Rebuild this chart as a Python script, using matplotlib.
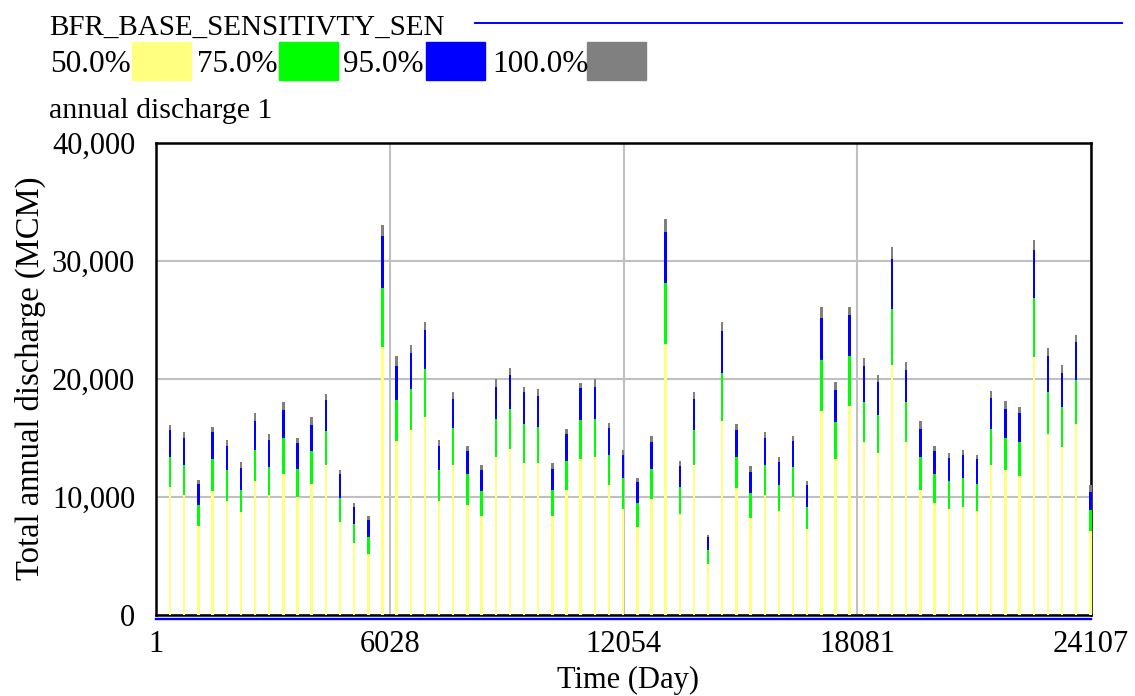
import numpy as np
import matplotlib.pyplot as plt
from matplotlib.patches import Rectangle
from matplotlib.ticker import FuncFormatter

plt.rcParams['font.family'] = ['Liberation Serif', 'DejaVu Serif']

# one spike per simulated year (day 365, 730, ...)
years = np.arange(1, 67)
days = years * 365

# confidence bands of annual discharge (MCM), upper edge of each band
p50 = [10810, 10180, 7550, 10470, 9670, 8710, 11320, 10130, 11940, 9990,
       11120, 12730, 7920, 6140, 5180, 22690, 14710, 15640, 16780, 9670,
       12750, 9350, 8360, 13400, 14080, 12890, 12890, 8410, 10620, 13230,
       13400, 10990, 9010, 7420, 9830, 22950, 8560, 12750, 4330, 16430,
       10760, 8220, 10180, 8850, 10040, 7270, 17260, 13240, 17740, 14650,
       13720, 21160, 14650, 10610, 9530, 9000, 9140, 8850, 12730, 12290,
       11780, 21840, 15380, 14220, 16150, 7110]
p75 = [13380, 12730, 9340, 13210, 12250, 10610, 14000, 12530, 14990, 12390,
       13860, 15620, 9900, 7720, 6590, 27690, 18190, 19180, 20850, 12250,
       15810, 11950, 10480, 16630, 17420, 16150, 15950, 10620, 13090, 16490,
       16630, 13540, 11610, 9490, 12410, 28100, 10820, 15640, 5520, 20480,
       13400, 10340, 12730, 10980, 12530, 9190, 21640, 16320, 21920, 18050,
       16920, 25970, 18050, 13380, 11940, 11320, 11600, 11120, 15780, 15040,
       14700, 26860, 18920, 17620, 19890, 8870]
p95 = [15640, 14990, 11120, 15470, 14340, 12420, 16460, 14850, 17400, 14540,
       16120, 18250, 11940, 9190, 8060, 32080, 21130, 22230, 24190, 14340,
       18270, 13880, 12270, 19350, 20340, 18900, 18560, 12410, 15300, 19210,
       19350, 15810, 13540, 11270, 14700, 32490, 12610, 18270, 6600, 24050,
       15670, 12120, 14990, 12930, 14710, 10980, 25150, 19040, 25460, 21130,
       19720, 30130, 20790, 15780, 13860, 13270, 13520, 13210, 18390, 17450,
       17140, 30900, 21980, 20510, 23120, 10450]
p100 = [16120, 15470, 11460, 15950, 14850, 12930, 17090, 15330, 18080, 14990,
        16780, 18700, 12250, 9500, 8400, 33070, 21920, 22910, 24840, 14850,
        18900, 14360, 12750, 19970, 20960, 19350, 19180, 12890, 15780, 19690,
        19970, 16290, 14020, 11610, 15160, 33570, 13090, 18900, 6800, 24840,
        16150, 12610, 15470, 13380, 15190, 11320, 26110, 19720, 26110, 21780,
        20310, 31170, 21440, 16460, 14340, 13720, 14000, 13580, 19010, 18100,
        17590, 31800, 22630, 21160, 23770, 10990]

band_labels = ['50.0%', '75.0%', '95.0%', '100.0%']
band_colors = ['#ffff80', '#00ff00', '#0000ff', '#808080']
band_values = [p50, p75, p95, p100]

W, H = 1135, 696
fig = plt.figure(figsize=(W / 100, H / 100), dpi=100)
ax = fig.add_axes([156 / W, 1 - 615 / H, (1091 - 156) / W, (615 - 143) / H])

# widest band first, narrower ones drawn on top
for vals, col in zip(band_values[::-1], band_colors[::-1]):
    ax.bar(days, vals, width=62, color=col, linewidth=0, zorder=3, clip_on=False)

# base run sits on zero, drawn just under the frame
ax.plot([1, 24107], [-300, -300], color='#0000ff', lw=1.7, clip_on=False, zorder=4)

ax.set_xlim(1, 24107)
ax.set_ylim(0, 40000)
ax.set_xticks([1, 6028, 12054, 18081, 24107])
ax.set_yticks([0, 10000, 20000, 30000, 40000])
ax.yaxis.set_major_formatter(FuncFormatter(lambda v, p: f'{int(v):,}'))
ax.tick_params(length=0, labelsize=22)
ax.tick_params(axis='y', pad=15)
ax.tick_params(axis='x', pad=11)
ax.grid(True, color='#c0c0c0', lw=1.5)
ax.set_axisbelow(True)
for s in ax.spines.values():
    s.set_linewidth(1.8)
    s.set_color('black')
    s.set_zorder(2)

fig.text(628 / W, 1 - 680 / H, 'Time (Day)', ha='center', va='center', fontsize=22)
fig.text(30 / W, 1 - 378 / H, 'Total annual discharge (MCM)', ha='center', va='center',
         rotation=90, fontsize=23.5)

# header: run name, band legend, variable name
fig.text(49 / W, 1 - 35 / H, 'BFR_BASE_SENSITIVTY_SEN', ha='left', va='baseline', fontsize=21)
fig.add_artist(plt.Line2D([475 / W, 1122 / W], [1 - 22.5 / H, 1 - 22.5 / H], color='#0000ff', lw=1.4))

label_x = [50, 197, 343, 492]
box_x = [132, 279, 426, 587]
for lab, col, lx, bx in zip(band_labels, band_colors, label_x, box_x):
    fig.text(lx / W, 1 - 72 / H, lab, ha='left', va='baseline', fontsize=22.5)
    fig.add_artist(Rectangle((bx / W, 1 - 80 / H), 59 / W, 38 / H, color=col,
                             transform=fig.transFigure))

fig.text(49 / W, 1 - 118 / H, 'annual discharge 1', ha='left', va='baseline', fontsize=21.5)

fig.savefig('out.png', dpi=100)
